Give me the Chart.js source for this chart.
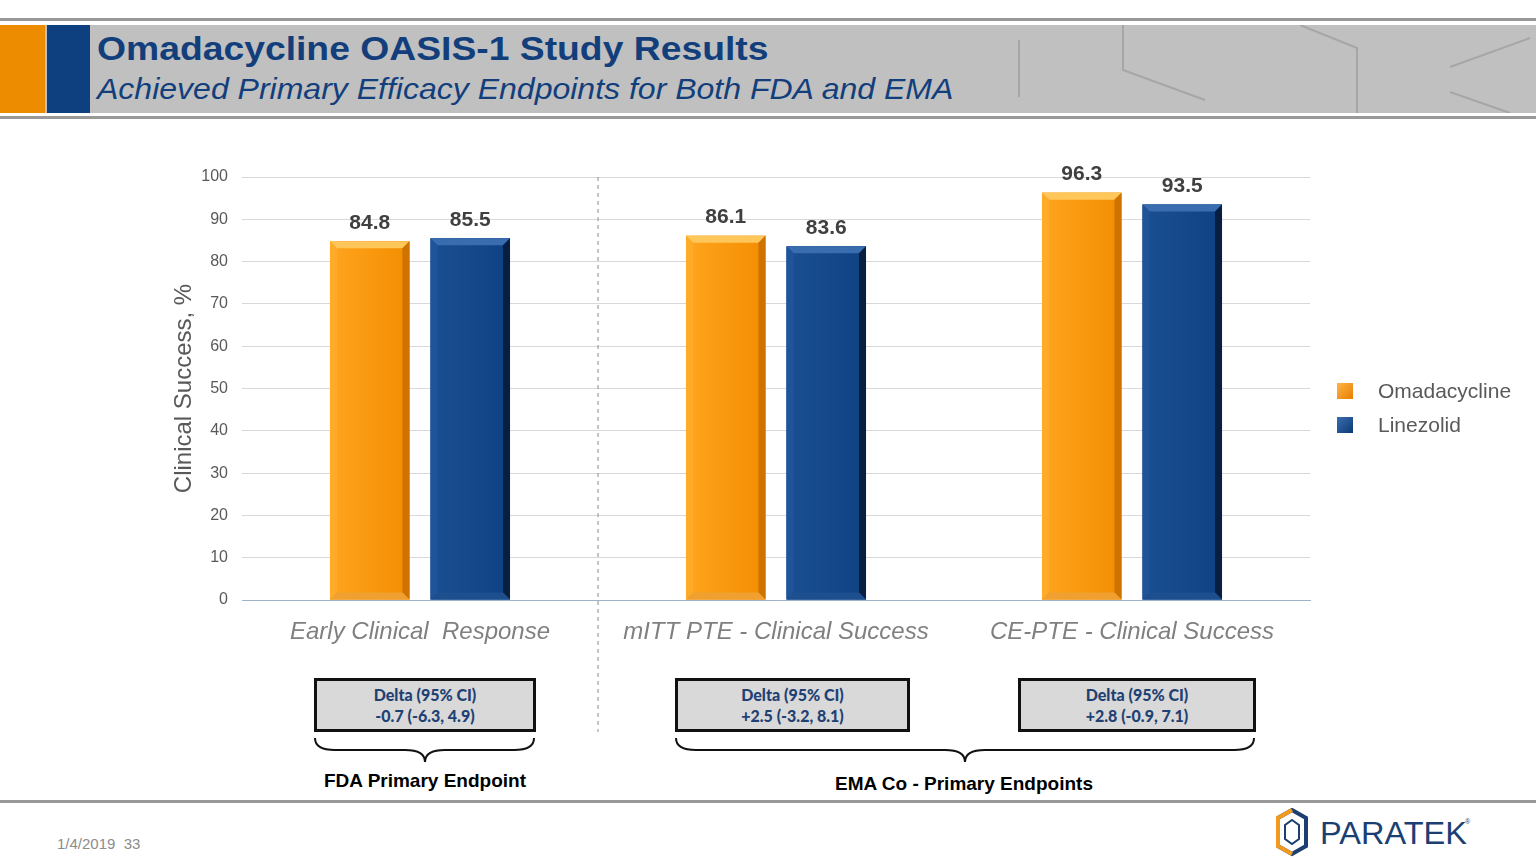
<!DOCTYPE html>
<html>
<head>
<meta charset="utf-8">
<script src="https://cdn.jsdelivr.net/npm/chart.js@4.4.1/dist/chart.umd.min.js"></script>
<style>
  html, body { margin: 0; padding: 0; background: #fff; }
  body { width: 1536px; height: 864px; position: relative; overflow: hidden; font-family: "Liberation Sans", Arial, sans-serif; }
  .abs { position: absolute; }
  .rule { position: absolute; left: 0; width: 1536px; height: 3px; background: #999; }
  #band { left: 0; top: 25px; width: 1536px; height: 88px; background: #c0c0c0; }
  #title { left: 97px; top: 30px; font-size: 33px; font-weight: bold; color: #123f7c; white-space: nowrap; transform: scaleX(1.13); transform-origin: left top; }
  #subtitle { left: 97px; top: 72px; font-size: 30px; font-style: italic; color: #123f7c; white-space: nowrap; transform: scaleX(1.067); transform-origin: left top; }
  #chartBox { left: 150px; top: 140px; width: 1250px; height: 600px; }
  .legend { position: absolute; left: 1337px; font-size: 21px; color: #595959; }
  .legend span.sw { position: absolute; left: 0; top: 0; width: 16px; height: 16px; }
  .legend span.tx { position: absolute; left: 41px; top: -4px; white-space: nowrap; }
  .delta { position: absolute; top: 678px; background: #d9d9d9; border: 3px solid #111;
           font-family: Lato, "Open Sans", sans-serif; font-weight: 900; font-size: 16px; color: #1f4173;
           text-align: center; line-height: 21px; padding-top: 3px; box-sizing: border-box; height: 54px; }
  .grp { position: absolute; font-weight: bold; font-size: 19px; color: #000; white-space: nowrap; transform: translateX(-50%); }
  #date { left: 57px; top: 835px; font-size: 15px; color: #8c8c8c; }
</style>
</head>
<body>
<div class="rule" style="top:18px"></div>
<div id="band" class="abs"></div>
<div class="abs" style="left:0;top:25px;width:45px;height:88px;background:#ee8c00"></div>
<div class="abs" style="left:47px;top:25px;width:43px;height:88px;background:#0e3f7e"></div>
<svg class="abs" style="left:0;top:25px" width="1536" height="88">
  <g stroke="#a6a6a6" stroke-width="2" fill="none">
    <line x1="1019" y1="15" x2="1019" y2="72"/>
    <polyline points="1123,0 1123,45 1205,75"/>
    <polyline points="1300,0 1357,23 1357,88"/>
    <line x1="1450" y1="42" x2="1530" y2="13"/>
    <line x1="1450" y1="67" x2="1510" y2="88"/>
  </g>
</svg>
<div id="title" class="abs">Omadacycline OASIS-1 Study Results</div>
<div id="subtitle" class="abs">Achieved Primary Efficacy Endpoints for Both FDA and EMA</div>
<div class="rule" style="top:116px"></div>

<div id="chartBox" class="abs"><canvas id="chart" width="1250" height="600"></canvas></div>

<div class="legend" style="top:383px"><span class="sw" style="background:linear-gradient(135deg,#ffb447,#e57f00)"></span><span class="tx">Omadacycline</span></div>
<div class="legend" style="top:417px"><span class="sw" style="background:linear-gradient(135deg,#3a6db0,#0d3a73)"></span><span class="tx">Linezolid</span></div>

<div class="delta" style="left:314px;width:222px">Delta (95% CI)<br>-0.7 (-6.3, 4.9)</div>
<div class="delta" style="left:675px;width:235px">Delta (95% CI)<br>+2.5 (-3.2, 8.1)</div>
<div class="delta" style="left:1018px;width:238px">Delta (95% CI)<br>+2.8 (-0.9, 7.1)</div>

<svg class="abs" style="left:0;top:730px" width="1536" height="40">
  <g stroke="#111" stroke-width="2" fill="none">
    <path d="M315,8 Q315,20 335,20 L405,20 Q425,20 425,32 Q425,20 445,20 L514,20 Q534,20 534,8"/>
    <path d="M676,8 Q676,20 696,20 L945,20 Q965,20 965,32 Q965,20 985,20 L1234,20 Q1254,20 1254,8"/>
  </g>
</svg>
<div class="grp" style="left:425px;top:770px">FDA Primary Endpoint</div>
<div class="grp" style="left:964px;top:773px">EMA Co - Primary Endpoints</div>

<div class="rule" style="top:800px"></div>
<div id="date" class="abs">1/4/2019&nbsp;&nbsp;33</div>
<svg class="abs" style="left:1276px;top:808px" width="200" height="50">
  <polygon points="16,2 30,10 30,38 16,46 2,38 2,10" fill="none" stroke="#1b3f73" stroke-width="4"/>
  <polyline points="16,2 2,10 2,38 16,46" fill="none" stroke="#f29a1f" stroke-width="4"/>
  <polygon points="16,12 23,17 23,31 16,36 9,31 9,17" fill="none" stroke="#1b3f73" stroke-width="2"/>
  <text x="44" y="36" font-family="Liberation Sans, Arial" font-size="31" fill="#1b3f73" textLength="147" lengthAdjust="spacingAndGlyphs">PARATEK</text>
  <text x="189" y="16" font-family="Liberation Sans, Arial" font-size="7" fill="#1b3f73">®</text>
</svg>

<script>
// categories and series
const categories = ["Early Clinical  Response", "mITT PTE - Clinical Success", "CE-PTE - Clinical Success"];
const omadacycline = [84.8, 86.1, 96.3];
const linezolid = [85.5, 83.6, 93.5];
const yMin = 0;
const yMax = 100;
const yStep = 10;

// bevel shading on top of the bars, using the bar geometry from Chart.js
const bevelPlugin = {
  id: "bevel",
  afterDatasetsDraw(chart) {
    const ctx = chart.ctx;
    const shades = [
      { face: ["#ffa51f", "#f38d00"], top: "#ffc65a", right: "#cf7300", left: "#ffab2a", bottom: "#f0a030" },
      { face: ["#1a4f93", "#0f4283"], top: "#3a6cb0", right: "#081f42", left: "#1f549a", bottom: "#1d4f8f" }
    ];
    chart.data.datasets.forEach((ds, di) => {
      const s = shades[di];
      chart.getDatasetMeta(di).data.forEach(bar => {
        const l = bar.x - bar.width / 2, r = bar.x + bar.width / 2;
        const t = bar.y, b = bar.base, e = 7;
        ctx.save();
        const g = ctx.createLinearGradient(l, 0, r, 0);
        g.addColorStop(0, s.face[0]);
        g.addColorStop(1, s.face[1]);
        ctx.fillStyle = g;
        ctx.fillRect(l, t, r - l, b - t);
        const quad = (pts, c) => {
          ctx.beginPath();
          ctx.moveTo(pts[0][0], pts[0][1]);
          pts.slice(1).forEach(p => ctx.lineTo(p[0], p[1]));
          ctx.closePath();
          ctx.fillStyle = c;
          ctx.fill();
        };
        quad([[l, t], [r, t], [r - e, t + e], [l + e, t + e]], s.top);
        quad([[r, t], [r, b], [r - e, b - e], [r - e, t + e]], s.right);
        quad([[l, t], [l + e, t + e], [l + e, b - e], [l, b]], s.left);
        quad([[l, b], [l + e, b - e], [r - e, b - e], [r, b]], s.bottom);
        ctx.restore();
      });
    });
  }
};

// value labels above bars
const valueLabels = {
  id: "valueLabels",
  afterDatasetsDraw(chart) {
    const ctx = chart.ctx;
    ctx.save();
    ctx.font = "bold 21px 'Liberation Sans', Arial, sans-serif";
    ctx.fillStyle = "#404040";
    ctx.textAlign = "center";
    ctx.textBaseline = "bottom";
    chart.data.datasets.forEach((ds, di) => {
      chart.getDatasetMeta(di).data.forEach((bar, i) => {
        ctx.fillText(ds.data[i].toFixed(1), bar.x, bar.y - 8);
      });
    });
    ctx.restore();
  }
};

// dashed divider between the FDA and EMA groups
const divider = {
  id: "divider",
  afterDraw(chart) {
    const x = chart.scales.x;
    const px = (x.getPixelForValue(0) + x.getPixelForValue(1)) / 2;
    const ctx = chart.ctx;
    ctx.save();
    ctx.strokeStyle = "#8c8c8c";
    ctx.lineWidth = 1;
    ctx.setLineDash([4, 4]);
    ctx.beginPath();
    ctx.moveTo(px, chart.chartArea.top);
    ctx.lineTo(px, chart.height - 8);
    ctx.stroke();
    ctx.restore();
  }
};

new Chart(document.getElementById("chart").getContext("2d"), {
  type: "bar",
  data: {
    labels: categories,
    datasets: [
      { label: "Omadacycline", data: omadacycline, backgroundColor: "#f7930e" },
      { label: "Linezolid", data: linezolid, backgroundColor: "#164c8e" }
    ]
  },
  options: {
    responsive: false,
    devicePixelRatio: 1,
    animation: false,
    barPercentage: 0.79,
    categoryPercentage: 0.565,
    layout: { padding: { top: 37, right: 90, left: 0, bottom: 0 } },
    plugins: {
      legend: { display: false },
      tooltip: { enabled: false }
    },
    scales: {
      x: {
        grid: { display: false, drawTicks: false },
        border: { display: true, color: "#9fb3c8", width: 1 },
        ticks: {
          color: "#808080",
          padding: 18,
          maxRotation: 0,
          font: { family: "'Liberation Sans', Arial, sans-serif", size: 24, style: "italic" }
        },
        afterFit(scale) { scale.height = 140; }
      },
      y: {
        min: yMin,
        max: yMax,
        grid: { color: "#d9d9d9", drawTicks: false },
        border: { display: false },
        ticks: {
          stepSize: yStep,
          padding: 14,
          color: "#595959",
          font: { family: "'Liberation Sans', Arial, sans-serif", size: 16 }
        },
        title: {
          display: true,
          text: "Clinical Success, %",
          color: "#595959",
          padding: { top: 20, bottom: 0 },
          font: { family: "'Liberation Sans', Arial, sans-serif", size: 24 }
        },
        afterFit(scale) { scale.width = 92; }
      }
    }
  },
  plugins: [bevelPlugin, valueLabels, divider]
});
</script>
</body>
</html>
